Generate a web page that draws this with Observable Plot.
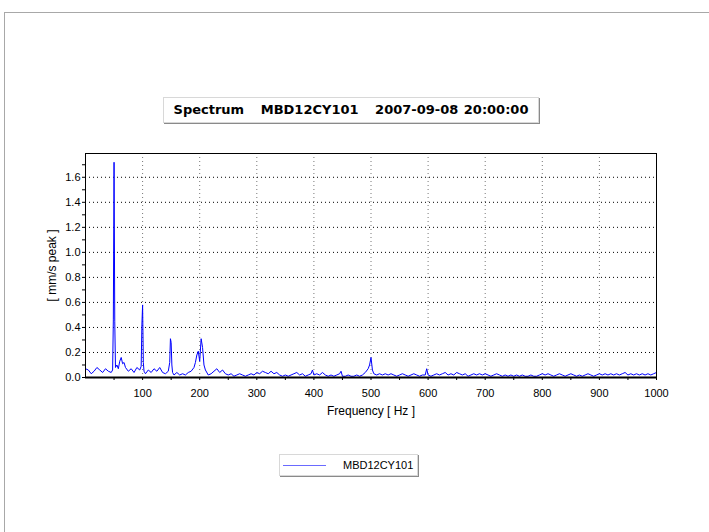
<!DOCTYPE html>
<html><head><meta charset="utf-8">
<script src="https://cdn.jsdelivr.net/npm/d3@7"></script>
<script src="https://cdn.jsdelivr.net/npm/@observablehq/plot@0.6"></script>
<style>
html,body{margin:0;padding:0;background:#fff;}
#wrap{position:relative;width:709px;height:532px;overflow:hidden;font-family:"Liberation Sans",Arial,sans-serif;}
#frame{position:absolute;left:4px;top:12px;width:720px;height:540px;border-left:1px solid #a8a8a8;border-top:1px solid #a8a8a8;}
#title{position:absolute;left:163px;top:97px;width:374px;height:24px;background:#fff;border:1px solid #d8d8d8;box-shadow:1px 1px 0 #8a8a8a;font-family:"DejaVu Sans",sans-serif;font-weight:bold;font-size:13px;line-height:24px;text-align:center;white-space:pre;color:#000;word-spacing:1px;}
#legend{position:absolute;left:279px;top:454px;width:137px;height:20px;background:#fff;border:1px solid #d8d8d8;box-shadow:1px 1px 0 #8a8a8a;font-size:11px;}
#legend .sw{position:absolute;left:3px;top:10px;width:43px;height:0;border-top:1px solid #6a6aff;}
#legend .tx{position:absolute;left:63px;top:3px;line-height:14px;color:#000;}
#chart{position:absolute;left:0;top:0;}
</style></head>
<body>
<div id="wrap">
<div id="frame"></div>
<div id="chart"></div>
<div id="title"></div>
<div id="legend"><div class="sw"></div><div class="tx"></div></div>
</div>
<script>
const titleText = "Spectrum   MBD12CY101   2007-09-08 20:00:00";
const seriesName = "MBD12CY101";
const xLabel = "Frequency [ Hz ]";
const yLabel = "[ mm/s peak ]";
const xTicks = [100,200,300,400,500,600,700,800,900,1000];
const xMinorTicks = [50,100,150,200,250,300,350,400,450,500,550,600,650,700,750,800,850,900,950,1000];
const yTicks = [0,0.2,0.4,0.6,0.8,1.0,1.2,1.4,1.6];
const yMinorTicks = [0.1,0.3,0.5,0.7,0.9,1.1,1.3,1.5,1.7];

const freq = [0,5,10,15,20,25,30,35,40,45,47.5,48.75,50,51.25,52.5,55,57.5,60,62.5,65,67.5,70,75,80,85,90,95,97.5,98.75,100,101.25,102.5,105,110,115,120,125,130,135,140,145,147.5,148.75,150,151.25,152.5,155,160,165,170,175,180,185,190,192.5,195,197.5,200,202.5,205,207.5,210,
215,220,225,230,235,240,245,250,255,260,265,270,275,280,285,290,295,300,305,310,315,320,325,330,335,340,345,350,355,360,365,370,375,380,385,390,395,397.5,400,405,410,415,420,425,430,435,440,445,447.5,450,455,460,465,470,475,480,485,490,495,497.5,500,502.5,505,510,515,520,525,530,535,540,545,550,555,560,565,570,575,580,585,590,595,597.5,600,605,610,615,620,625,630,635,640,645,650,655,660,665,670,675,680,685,690,695,700,705,710,715,720,725,730,735,740,745,750,755,760,765,770,775,780,785,790,795,800,805,810,815,820,825,830,835,840,845,850,855,860,865,870,875,880,885,890,895,900,905,910,915,920,925,930,935,940,945,950,955,960,965,970,975,980,985,990,995,1000];
const amp = [0.07,0.06,0.03,0.05,0.08,0.06,0.04,0.07,0.05,0.04,0.06,0.46,1.72,0.45,0.08,0.10,0.07,0.13,0.16,0.11,0.12,0.08,0.05,0.07,0.04,0.08,0.06,0.09,0.42,0.58,0.12,0.05,0.03,0.06,0.04,0.07,0.05,0.08,0.04,0.03,0.05,0.12,0.31,0.28,0.10,0.04,0.02,0.04,0.02,0.03,0.02,0.04,0.05,0.08,0.12,0.18,0.21,0.13,0.31,0.24,0.10,0.06,
0.02,0.03,0.05,0.07,0.04,0.06,0.03,0.02,0.03,0.01,0.02,0.03,0.02,0.01,0.02,0.03,0.02,0.04,0.03,0.05,0.04,0.03,0.05,0.03,0.04,0.02,0.01,0.02,0.01,0.02,0.03,0.04,0.02,0.03,0.01,0.02,0.03,0.06,0.02,0.03,0.02,0.04,0.02,0.01,0.02,0.01,0.02,0.03,0.05,0.01,0.01,0.02,0.01,0.01,0.02,0.01,0.02,0.04,0.07,0.10,0.16,0.06,0.03,0.02,0.03,0.02,0.03,0.02,0.03,0.02,0.01,0.02,0.03,0.02,0.01,0.02,0.03,0.02,0.01,0.02,0.02,0.07,0.02,0.01,0.02,0.03,0.02,0.03,0.04,0.02,0.03,0.02,0.04,0.03,0.02,0.03,0.01,0.02,0.03,0.02,0.03,0.02,0.03,0.02,0.01,0.02,0.03,0.02,0.01,0.02,0.01,0.02,0.01,0.02,0.01,0.02,0.01,0.01,0.02,0.01,0.01,0.02,0.03,0.02,0.03,0.02,0.01,0.02,0.03,0.02,0.01,0.02,0.03,0.02,0.01,0.02,0.01,0.02,0.03,0.02,0.01,0.02,0.03,0.02,0.03,0.02,0.03,0.02,0.03,0.02,0.03,0.04,0.02,0.03,0.02,0.03,0.02,0.03,0.02,0.03,0.02,0.03,0.04];

const data = freq.map((f,i)=>({f, v: amp[i]}));

document.getElementById("title").textContent = titleText;
document.querySelector("#legend .tx").textContent = seriesName;

const chart = Plot.plot({
  width: 709, height: 532,
  marginLeft: 85, marginRight: 53, marginTop: 153, marginBottom: 155,
  style: {fontFamily: "Liberation Sans, Arial, sans-serif", fontSize: "11px", background: "transparent", color: "#000"},
  x: {domain: [0,1000]},
  y: {domain: [0,1.79]},
  marks: [
    Plot.gridX(xTicks.slice(0,9), {stroke: "#777", strokeOpacity: 1, strokeDasharray: "1,3"}),
    Plot.gridY(yTicks.slice(1), {stroke: "#000", strokeOpacity: 1, strokeDasharray: "1,3"}),
    Plot.line(data, {x: "f", y: "v", stroke: "#0000ff", strokeWidth: 1}),
    Plot.frame({stroke: "#000", strokeWidth: 1}),
    Plot.ruleY([0], {stroke: "#000", strokeWidth: 2}),
    Plot.axisX(xMinorTicks, {tickSize: 3, tickFormat: () => "", stroke: "#000", label: null}),
    Plot.axisX(xTicks, {tickSize: 0, tickPadding: 12, tickFormat: d => String(d), fill: "#000", label: null}),
    Plot.axisY(yMinorTicks, {tickSize: 3, tickFormat: () => "", stroke: "#000", label: null}),
    Plot.axisY(yTicks, {tickSize: 3, tickPadding: 2, tickFormat: d3.format(".1f"), fill: "#000", stroke: "#000", label: null}),
    Plot.text([xLabel], {frameAnchor: "bottom", dy: 37, fontSize: 12, fill: "#000"}),
    Plot.text([yLabel], {frameAnchor: "left", dx: -33, rotate: -90, textAnchor: "middle", fontSize: 12, fill: "#000"})
  ]
});
document.getElementById("chart").appendChild(chart);
</script>
</body></html>
